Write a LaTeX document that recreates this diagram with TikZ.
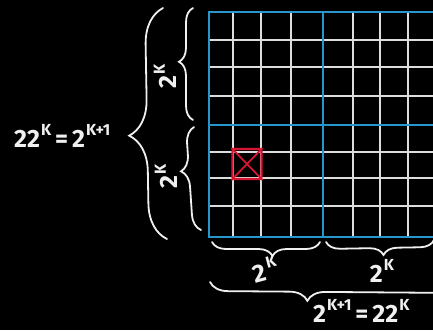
\documentclass[tikz,border=0pt]{standalone}
\usepackage{fontspec}
\setmainfont{Fira Sans}
\usetikzlibrary{decorations.pathreplacing}
\definecolor{gridblue}{RGB}{38,150,205}
\definecolor{gridred}{RGB}{215,20,50}
\definecolor{chalk}{RGB}{240,240,240}
\newcommand{\hiexp}[1]{\hspace{1pt}\raisebox{0.45em}{\fontsize{16}{18}\selectfont #1}}
\tikzset{
  gridline/.style={draw=chalk!92!black, line width=1.8pt},
  blueline/.style={draw=gridblue, line width=2.6pt},
  bracestyle/.style={draw=chalk, line width=1.8pt, line cap=round, decorate,
     decoration={brace, amplitude=#1}},
  lbl/.style={text=chalk, inner sep=0pt, font=\fontsize{25}{28}\selectfont\bfseries},
}
\begin{document}
\begin{tikzpicture}[x=1pt,y=-1pt]
\fill[black] (0,0) rectangle (433,330);
\useasboundingbox (0,0) rectangle (433,330);
\clip (0,0) rectangle (433,330);
% grid (white inner lines)
\foreach \x in {233,261,291,353,380,408} \draw[gridline] (\x,12) -- (\x,237);
\foreach \y in {40,67,96,152,178,206} \draw[gridline] (209,\y) -- (440,\y);
% blue quadrant lines
\draw[blueline] (440,12) -- (209,12) -- (209,237) -- (440,237);
\draw[blueline] (323,12) -- (323,237);
\draw[blueline] (209,125) -- (440,125);
% red marked cell
\node[draw=gridred, line width=2.2pt, rounded corners=2pt, minimum width=29pt, minimum height=30pt, inner sep=0pt] (hit) at (247,164) {};
\draw[gridred, line width=1.8pt] (hit.north west) -- (hit.south east) (hit.north east) -- (hit.south west);
% left braces
\coordinate (obA) at (167,239); \coordinate (obB) at (163,8);
\draw[bracestyle=36pt, decoration={aspect=0.45}] (obA) -- (obB);
\coordinate (itA) at (193,120); \coordinate (itB) at (193,8);
\draw[bracestyle=14pt, decoration={aspect=0.52}] (itA) -- (itB);
\coordinate (ibA) at (201,230); \coordinate (ibB) at (194,127);
\draw[bracestyle=16pt, decoration={aspect=0.58}] (ibA) -- (ibB);
% bottom braces
\coordinate (b1A) at (320,242); \coordinate (b1B) at (212,242);
\draw[bracestyle=14pt, decoration={aspect=0.44}] (b1A) -- (b1B);
\coordinate (b2A) at (434,240); \coordinate (b2B) at (326,242);
\draw[bracestyle=14pt, decoration={aspect=0.47}] (b2A) -- (b2B);
\coordinate (bbA) at (460,284); \coordinate (bbB) at (210,282);
\draw[bracestyle=18pt, decoration={aspect=0.61}] (bbA) -- (bbB);
% labels
\node[lbl, anchor=base west] (eqL) at (14,147) {22\hiexp{K}\hspace{4pt}=\hspace{4pt}2\hiexp{K+1}};
\node[lbl, rotate=90] (kTop) at (165,76) {2\hiexp{K}};
\node[lbl, rotate=90] (kBot) at (166,176) {2\hiexp{K}};
\node[lbl, rotate=15] (kB1) at (265,269) {2\hspace{1pt}\hiexp{K}};
\node[lbl] (kB2) at (382,271) {2\hiexp{K}};
\node[lbl, anchor=base west] (eqB) at (313,322) {2\hiexp{K+1}\hspace{4pt}=\hspace{4pt}22\hiexp{K}};
\end{tikzpicture}
\end{document}
